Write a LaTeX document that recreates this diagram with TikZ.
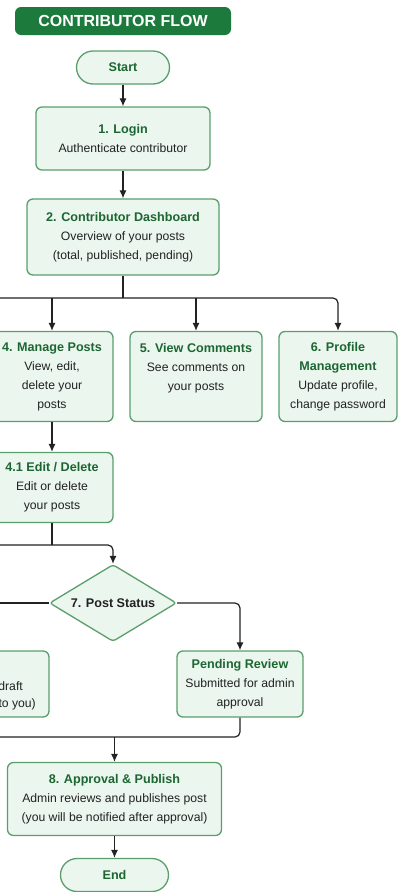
\documentclass[tikz,border=0pt]{standalone}
\usepackage{fontspec}
\setmainfont{Liberation Sans}
\usetikzlibrary{shapes.geometric,arrows.meta}

\definecolor{banner}{HTML}{1B7A3C}
\definecolor{boxfill}{HTML}{EBF6EE}
\definecolor{boxline}{HTML}{5A9E6C}
\definecolor{headtext}{HTML}{1D6632}
\definecolor{bodytext}{HTML}{222222}
\definecolor{wirecol}{HTML}{222222}

% heading line inside a box
\newcommand{\hd}[1]{{\fontsize{12.6}{19}\selectfont\bfseries\color{headtext}#1}}
% dark heading used in the decision
\newcommand{\hdark}[1]{{\fontsize{12.6}{19}\selectfont\bfseries\color{bodytext}#1}}

\begin{document}
\begin{tikzpicture}[x=1pt,y=1pt,
  base/.style={draw=boxline, fill=boxfill, line width=1.3pt, text=bodytext,
    align=center, inner sep=0pt, font=\fontsize{12.2}{19}\selectfont},
  stepbox/.style={base, rounded corners=6pt},
  terminal/.style={base, rounded corners=16.5pt, minimum height=33pt},
  decision/.style={base, diamond, aspect=1.65, rounded corners=3pt},
  frag/.style={text=bodytext, inner sep=0pt, font=\fontsize{12.2}{19}\selectfont},
  wire/.style={draw=wirecol, line width=1.2pt},
  flow/.style={wire, -{Latex[length=8pt,width=7pt]}}]

\useasboundingbox (0,0) rectangle (401,-892);
\clip (0,0) rectangle (401,-892);

% banner
\node[fill=banner, rounded corners=6pt, minimum width=216pt, minimum height=28pt,
  inner sep=0pt, text=white, font=\fontsize{16}{19}\selectfont\bfseries]
  (banner) at (123,-21) {CONTRIBUTOR FLOW};

% main steps
\node[terminal, minimum width=93pt] (start) at (123,-67.5) {\hd{Start}};
\node[stepbox, minimum width=174pt, minimum height=63pt] (login) at (123,-138.5)
  {\hd{1. Login}\\Authenticate contributor};
\node[stepbox, minimum width=192pt, minimum height=76pt] (dash) at (123,-237)
  {\hd{2. Contributor Dashboard}\\Overview of your posts\\(total, published, pending)};

\node[stepbox, minimum width=122pt, minimum height=90pt] (manage) at (52,-376.5)
  {\hd{4. Manage Posts}\\View, edit,\\delete your\\posts};
\node[stepbox, minimum width=132pt, minimum height=90pt] (comments) at (196,-376.5)
  {\hd{5. View Comments}\\See comments on\\your posts\\\mbox{}};
\node[stepbox, minimum width=118pt, minimum height=90pt] (profile) at (338,-376.5)
  {\hd{6. Profile}\\\hd{Management}\\Update profile,\\change password};

\node[stepbox, minimum width=122pt, minimum height=70pt] (editdel) at (52,-487.5)
  {\hd{4.1 Edit / Delete}\\Edit or delete\\your posts};

\node[decision, minimum width=127pt, minimum height=77pt] (status) at (113,-603)
  {\hdark{7. Post Status}};

\node[stepbox, minimum width=126pt, minimum height=66pt] (draftbox) at (-14,-684) {};
\node[frag, anchor=base east] (draftA) at (23,-690) {draft};
\node[frag, anchor=base east] (draftB) at (36,-707) {to you)};

\node[stepbox, minimum width=126pt, minimum height=66pt] (pending) at (240,-684)
  {\hd{Pending Review}\\Submitted for admin\\approval};

\node[stepbox, minimum width=214pt, minimum height=73pt] (approve) at (114.5,-799)
  {\hd{8. Approval \& Publish}\\Admin reviews and publishes post\\(you will be notified after approval)};
\node[terminal, minimum width=108pt] (endnode) at (114.5,-875) {\hd{End}};

% junction points running off the left edge
\coordinate (busL) at (-90,-298);
\coordinate (feedL) at (-90,-545);
\coordinate (rejectL) at (-90,-603);
\coordinate (mergeL) at (-90,-737);

% connectors
\draw[flow] (start) -- (login);
\draw[flow] (login) -- (dash);
\draw[wire] (dash.south) -- (dash.south |- busL);
\draw[flow, rounded corners=5pt] (busL) -| (profile.north);
\draw[flow] (manage.north |- busL) -- (manage.north);
\draw[flow] (comments.north |- busL) -- (comments.north);
\draw[flow] (manage) -- (editdel);
\draw[wire] (editdel.south) -- (editdel.south |- feedL);
\draw[flow, rounded corners=5pt] (feedL) -| (status.north);
\draw[wire] (status.west) -- (rejectL);
\draw[flow, rounded corners=5pt] (status.east) -| (pending.north);
\draw[wire, rounded corners=5pt] (pending.south) |- (mergeL);
\draw[flow] (approve.north |- mergeL) -- (approve.north);
\draw[flow] (approve) -- (endnode);

\end{tikzpicture}
\end{document}
